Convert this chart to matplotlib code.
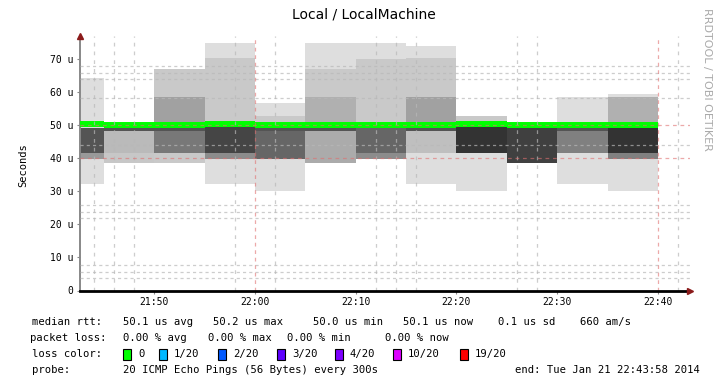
"""
Smokeping style latency graph for Local / LocalMachine
"""

import numpy as np
import matplotlib
matplotlib.use("Agg")
import matplotlib.pyplot as plt
from matplotlib.patches import Rectangle

W, H = 722, 378

# 5 minute steps, minutes relative to 22:00
step_start = [-20, -15, -10, -5, 0, 5, 10, 15, 20, 25, 30, 35]
step_len = 5

# smoke per step: band edges (us) and how dense the pings are inside each band
smoke_edges = [
    [32.1, 39.6, 41.5, 49.2, 64.1],
    [38.6, 41.5, 48.3, 50.5],
    [38.6, 41.5, 48.3, 50.1, 58.4, 66.8],
    [32.1, 39.6, 41.5, 50.1, 70.2, 74.7],
    [30.1, 39.6, 48.3, 50.1, 52.7, 56.7],
    [38.6, 48.3, 50.1, 58.4, 66.8, 74.7],
    [39.6, 41.5, 50.1, 69.8, 74.7],
    [32.1, 41.5, 48.3, 50.1, 58.4, 70.2, 73.9],
    [30.1, 41.5, 50.1, 52.7],
    [38.6, 50.5],
    [32.1, 41.5, 48.3, 50.1, 58.4],
    [30.1, 39.6, 41.5, 50.1, 58.4, 59.4],
]
smoke_density = [
    [0.13, 0.40, 0.67, 0.13],
    [0.22, 0.27, 0.67],
    [0.21, 0.53, 0.67, 0.37, 0.21],
    [0.13, 0.45, 0.73, 0.21, 0.13],
    [0.13, 0.60, 0.67, 0.21, 0.13],
    [0.33, 0.67, 0.31, 0.21, 0.13],
    [0.45, 0.60, 0.21, 0.13],
    [0.13, 0.25, 0.67, 0.37, 0.21, 0.13],
    [0.13, 0.80, 0.21],
    [0.75],
    [0.13, 0.50, 0.67, 0.13],
    [0.13, 0.50, 0.80, 0.31, 0.13],
]
median_rtt = [50.2, 50.0, 50.1, 50.2, 50.0, 50.1, 50.1, 50.0, 50.2, 50.1, 50.0, 50.1]
loss_count = [0, 0, 0, 0, 0, 0, 0, 0, 0, 0, 0, 0]

y_ticks = [0, 10, 20, 30, 40, 50, 60, 70]
y_labels = ["0", "10 u", "20 u", "30 u", "40 u", "50 u", "60 u", "70 u"]
x_ticks = [-10, 0, 10, 20, 30, 40]
x_labels = ["21:50", "22:00", "22:10", "22:20", "22:30", "22:40"]
minor_x = [-16, -14, -12, -2, 2, 12, 14, 16, 26, 28, 42]
major_x = [0, 40]
minor_y = [3.7, 5.7, 7.7, 21.8, 23.8, 25.8, 44.0, 58.1, 63.8, 65.8, 67.8]
major_y = [40, 50]

loss_levels = [0, 1, 2, 3, 4, 10, 19]
loss_labels = ["0", "1/20", "2/20", "3/20", "4/20", "10/20", "19/20"]
loss_colors = ["#00ff00", "#00b8ff", "#0059ff", "#5e00ff", "#7e00ff", "#dd00ff", "#ff0000"]


def loss_color(n):
    idx = max(i for i, lv in enumerate(loss_levels) if n >= lv)
    return loss_colors[idx]


def ftext(x, y, s, **kw):
    """place text using pixel coordinates from the top-left corner"""
    kw.setdefault("va", "center")
    kw.setdefault("fontsize", 7.6)
    kw.setdefault("family", "DejaVu Sans Mono")
    fig.text(x / W, 1 - y / H, s, **kw)


fig = plt.figure(figsize=(W / 100, H / 100), dpi=100)
ax = fig.add_axes([80 / W, (H - 290.5) / H, 610 / W, (290.5 - 35.6) / H])
ax.set_xlim(-17.37, 43.18)
ax.set_ylim(0, 77)

# smoke bands
for t0, edges, dens in zip(step_start, smoke_edges, smoke_density):
    for lo, hi, d in zip(edges[:-1], edges[1:], dens):
        g = 1 - d
        ax.bar(t0, hi - lo, bottom=lo, width=step_len, align="edge",
               color=(g, g, g), lw=0, zorder=1)

# median line coloured by packet loss
starts = np.array(step_start)
ax.hlines(median_rtt, starts, starts + step_len,
          colors=[loss_color(n) for n in loss_count], lw=4.3, zorder=3)

# grid on top, like rrdtool does
for x in minor_x:
    ax.axvline(x, color="#b8b8b8", lw=0.9, ls=(0, (3, 4)), alpha=0.7, zorder=4)
for y in minor_y:
    ax.axhline(y, color="#b8b8b8", lw=0.9, ls=(0, (2.5, 2.5)), alpha=0.7, zorder=4)
for x in major_x:
    ax.axvline(x, color="#e07070", lw=0.9, ls=(0, (3, 3)), alpha=0.6, zorder=4)
for y in major_y:
    ax.axhline(y, color="#e07070", lw=0.9, ls=(0, (3, 3)), alpha=0.6, zorder=4)

for side in ["top", "right"]:
    ax.spines[side].set_visible(False)
ax.spines["left"].set_color("#888888")
ax.spines["left"].set_linewidth(1.4)
ax.spines["bottom"].set_color("black")
ax.spines["bottom"].set_linewidth(2.0)
ax.spines["bottom"].set_zorder(5)

# axis arrows
ax.plot([1.0], [0.0], marker=">", color="#8b1a1a", ms=4, transform=ax.transAxes, clip_on=False, zorder=6)
ax.plot([0.0], [1.0], marker="^", color="#8b1a1a", ms=4, transform=ax.transAxes, clip_on=False, zorder=6)

ax.set_yticks(y_ticks, y_labels, family="DejaVu Sans Mono")
ax.set_xticks(x_ticks, x_labels, family="DejaVu Sans Mono")
ax.tick_params(axis="both", length=2, width=0.8, color="#888888", labelsize=7, pad=3)

# titles
fig.text(0.504, 1 - 15 / H, "Local / LocalMachine", ha="center", va="center", fontsize=10)
fig.text(23 / W, 1 - 165 / H, "Seconds", rotation=90, ha="center", va="center",
         fontsize=7.5, family="DejaVu Sans Mono")
fig.text(707 / W, 1 - 79 / H, "RRDTOOL / TOBI OETIKER", rotation=270, ha="center",
         va="center", fontsize=8, color="#aaaaaa")

# legend statistics
med = np.array(median_rtt)
avg, sd = med.mean(), med.std()
row1 = [(32, "median rtt:"), (123, f"{avg:4.1f} us avg"), (213, f"{med.max():4.1f} us max"),
        (313, f"{med.min():4.1f} us min"), (403, f"{med[-1]:4.1f} us now"),
        (498, f"{sd:3.1f} us sd"), (580, f"{avg / sd:.0f} am/s")]
for x, s in row1:
    ftext(x, 322, s)

loss_pct = np.array(loss_count) / 20 * 100
row2 = [(30, "packet loss:"), (123, f"{loss_pct.mean():.2f} % avg"),
        (208, f"{loss_pct.max():.2f} % max"), (287, f"{loss_pct.min():.2f} % min"),
        (385, f"{loss_pct[-1]:.2f} % now")]
for x, s in row2:
    ftext(x, 338, s)

ftext(32, 354, "loss color:")
box_x = [123, 159, 218, 277, 335, 393, 460]
for bx, col, lab in zip(box_x, loss_colors, loss_labels):
    fig.add_artist(Rectangle((bx / W, 1 - 360 / H), 8 / W, 11 / H, transform=fig.transFigure,
                             facecolor=col, edgecolor="black", lw=0.8))
    ftext(bx + 15, 354, lab)

ftext(32, 370, "probe:")
ftext(123, 370, "20 ICMP Echo Pings (56 Bytes) every 300s")
ftext(700, 370, "end: Tue Jan 21 22:43:58 2014", ha="right")

fig.savefig("out.png", dpi=100)
